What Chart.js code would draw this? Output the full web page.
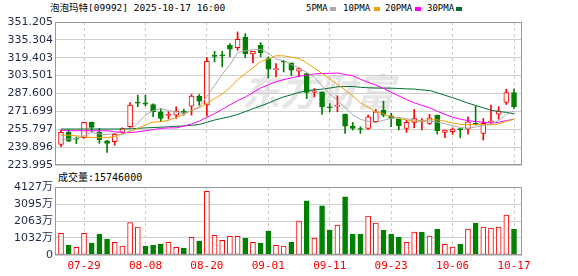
<!DOCTYPE html>
<html>
<head>
<meta charset="utf-8">
<script src="https://cdn.jsdelivr.net/npm/chart.js@4.4.1/dist/chart.umd.min.js"></script>
<style>
  body { margin: 0; width: 578px; height: 276px; background: #fff; position: relative; overflow: hidden; }
  .t { position: absolute; white-space: nowrap; font-family: 'DejaVu Sans Mono', 'Noto Sans CJK SC', monospace; color: #000; line-height: 12px; }
  .sq { position: absolute; width: 6px; height: 4px; }
  canvas { position: absolute; left: 0; }
</style>
</head>
<body>
<div class="t" id="title" style="left:50px;top:2px;font-size:9.5px;">泡泡玛特[09992] 2025-10-17 16:00</div>
<div class="t" style="left:306px;top:2px;font-size:9px;">5PMA</div><div class="sq" style="left:330px;top:7px;background:#aaaaaa"></div>
<div class="t" style="left:343px;top:2px;font-size:9px;">10PMA</div><div class="sq" style="left:374px;top:7px;background:#f0a000"></div>
<div class="t" style="left:385px;top:2px;font-size:9px;">20PMA</div><div class="sq" style="left:415px;top:7px;background:#ff00ff"></div>
<div class="t" style="left:427px;top:2px;font-size:9px;">30PMA</div><div class="sq" style="left:456px;top:7px;background:#007030"></div>
<div class="t" style="left:58px;top:172px;font-size:10px;">成交量:15746000</div>

<canvas id="price" width="578" height="176" style="top:0"></canvas>
<canvas id="vol" width="578" height="106" style="top:170px"></canvas>

<script>
// daily candles, 泡泡玛特 09992
const dates = ["07-24","07-25","07-28","07-29","07-30","07-31","08-01","08-04","08-05","08-06",
  "08-07","08-08","08-11","08-12","08-13","08-14","08-15","08-18","08-19","08-20",
  "08-21","08-22","08-25","08-26","08-27","08-28","08-29","09-01","09-02","09-03",
  "09-04","09-05","09-08","09-09","09-10","09-11","09-12","09-15","09-16","09-17",
  "09-18","09-19","09-22","09-23","09-24","09-25","09-26","09-29","09-30","10-02",
  "10-03","10-06","10-08","10-09","10-10","10-13","10-14","10-15","10-16","10-17"];
const opens = [242.3,253.0,248.0,248.2,261.9,253.0,245.6,244.7,253.0,258.0,
  280.0,279.3,277.8,271.3,268.0,268.4,271.5,276.3,285.2,277.5,
  321.5,321.3,330.5,328.4,337.9,322.8,330.5,318.7,308.9,316.3,
  314.8,307.4,305.4,288.7,289.1,275.5,276.0,269.3,258.6,255.9,
  256.5,262.5,272.8,267.8,264.8,256.5,261.9,262.9,261.0,268.4,
  253.0,253.6,255.9,255.9,260.8,252.1,261.9,269.3,279.6,288.5];
const highs = [255.1,255.6,249.0,262.0,262.2,256.5,246.0,252.1,257.1,279.6,
  286.1,286.1,278.5,274.3,271.3,275.8,273.7,286.7,286.7,319.5,
  325.2,325.2,332.0,342.4,340.9,325.2,332.9,320.2,314.2,317.2,
  314.8,310.4,305.4,292.0,289.1,278.7,285.5,269.3,261.9,258.0,
  268.4,273.4,280.8,269.9,264.8,263.9,273.4,265.4,269.0,268.4,
  255.1,257.1,256.5,266.9,276.6,265.4,277.2,275.8,291.5,291.5];
const lows = [240.3,244.7,243.0,247.6,253.6,243.2,235.2,241.7,252.1,257.4,
  275.8,276.6,266.9,262.5,264.8,265.4,268.4,268.4,277.2,267.5,
  315.7,311.3,320.2,326.1,319.6,315.1,320.2,301.5,302.4,306.8,
  303.3,302.4,283.1,284.6,269.0,271.3,271.3,252.1,255.1,252.1,
  255.6,261.9,266.9,258.0,255.1,253.0,257.1,255.1,260.0,251.5,
  248.2,251.2,248.2,251.5,259.5,246.2,261.0,264.8,277.8,274.3];
const closes = [253.0,245.3,247.0,261.9,257.4,246.2,243.2,251.2,256.5,277.3,
  279.0,278.0,271.3,265.4,269.0,271.9,270.8,285.2,280.8,316.3,
  320.5,321.0,327.0,335.8,323.1,325.2,324.0,309.2,309.8,315.4,
  308.3,309.8,288.5,289.1,275.8,274.9,277.2,258.6,256.5,255.6,
  266.9,271.3,268.4,265.4,258.9,261.9,265.4,263.1,266.0,254.5,
  255.1,255.9,255.5,262.5,260.2,261.0,262.5,272.2,288.5,275.8];
// volume in 万
const volumes = [1308,604,463,1308,725,1268,966,765,544,1973,
  1691,544,604,664,765,463,423,1067,845,3865,
  1188,886,1127,1127,1007,765,725,1449,584,544,
  785,2053,3281,1027,2979,1510,1812,3523,1268,1268,
  2355,1932,1510,1268,1087,765,1389,1389,1147,1570,
  644,483,664,1570,1932,1691,1631,1691,2416,1575];

// MA values before a full window exists
const ma5Lead = [247, 247, 247.5, 250];
const ma10Lead = [250.5, 250.5, 250, 249, 248.5, 248.3, 248.3, 249.5, 251.5];
const ma20Lead = [255, 254.5, 254.5, 254.5, 254.5, 254.5, 254.5, 253.5, 253, 252.8,
  253.5, 254.5, 255.5, 256.5, 257, 257, 258.5, 260.5, 263];
const ma30Lead = [256, 256, 256, 256, 256, 256, 256, 256, 256, 256.3,
  256.6, 257, 257.3, 257.6, 258, 258.4, 258.8, 259.3, 260, 262,
  264, 265.5, 267, 269, 271.5, 274, 276.5, 279, 282];

const priceTicks = [223.995, 239.896, 255.797, 271.699, 287.600, 303.501, 319.403, 335.304, 351.205];
const volTicks = [0, 1032, 2063, 3095, 4127];
const dateTickIdx = [3, 11, 19, 27, 35, 43, 51, 59];

const RED = "#ff0000";
const GREEN = "#008000";
const AXIS_TEXT = "#1e2a44";

function movingAvg(n, lead) {
  return closes.map((c, i) => {
    if (i < n - 1) return lead[i];
    let s = 0;
    for (let k = i - n + 1; k <= i; k++) s += closes[k];
    return s / n;
  });
}

const up = closes.map((c, i) => c >= opens[i]);
const volUp = closes.map((c, i) => (i === 0 ? c >= opens[i] : c >= closes[i - 1]));

// draw the grey box round the plot
const framePlugin = {
  id: "frame",
  afterDatasetsDraw(chart) {
    const { ctx, chartArea: a } = chart;
    ctx.save();
    ctx.strokeStyle = "#999";
    ctx.lineWidth = 1;
    ctx.strokeRect(Math.round(a.left) + 0.5, Math.round(a.top) + 0.5,
      Math.round(a.width) - 1, Math.round(a.height) - 1);
    ctx.restore();
  },
};

const watermark = {
  id: "watermark",
  beforeDatasetsDraw(chart) {
    const { ctx } = chart;
    ctx.save();
    ctx.font = "italic bold 38px 'Noto Sans CJK SC'";
    ctx.fillStyle = "rgba(205,205,205,0.5)";
    ctx.textBaseline = "middle";
    ctx.fillText("东方财富", 242, 92);
    ctx.restore();
  },
};

const xAxis = (showLabels) => ({
  type: "linear",
  min: -0.78,
  max: 60.04,
  offset: false,
  afterBuildTicks: (s) => { s.ticks = dateTickIdx.map((v) => ({ value: v })); },
  afterFit: (s) => { s.height = showLabels ? 21 : 0; },
  grid: { color: "#cccccc", drawTicks: false, offset: false },
  border: { display: false, dash: [3, 3] },
  ticks: {
    display: showLabels,
    autoSkip: false,
    maxRotation: 0,
    padding: 5,
    color: RED,
    font: { family: "'DejaVu Sans Mono'", size: 11 },
    callback: (v) => dates[v],
  },
});

const maLine = (label, n, lead, color) => ({
  type: "line",
  label,
  order: 0,
  data: movingAvg(n, lead).map((v, i) => ({ x: i, y: v })),
  borderColor: color,
  borderWidth: 1,
  pointRadius: 0,
  tension: 0,
});

new Chart(document.getElementById("price"), {
  type: "bar",
  data: {
    datasets: [
      maLine("5PMA", 5, ma5Lead, "#aaaaaa"),
      maLine("10PMA", 10, ma10Lead, "#f0a000"),
      maLine("20PMA", 20, ma20Lead, "#ff00ff"),
      maLine("30PMA", 30, ma30Lead, "#007030"),
      {
        label: "body",
        order: 1,
        data: opens.map((o, i) => ({ x: i, y: [o, closes[i]] })),
        backgroundColor: up.map((u) => (u ? "#ffffff" : GREEN)),
        borderColor: up.map((u) => (u ? RED : GREEN)),
        borderWidth: 1,
        borderSkipped: false,
        barThickness: 5,
        minBarLength: 1,
        grouped: false,
      },
      {
        label: "wick",
        order: 2,
        data: lows.map((l, i) => ({ x: i, y: [l, highs[i]] })),
        backgroundColor: up.map((u) => (u ? RED : GREEN)),
        borderWidth: 0,
        barThickness: 1,
        grouped: false,
      },
    ],
  },
  options: {
    responsive: false,
    animation: false,
    devicePixelRatio: 1,
    layout: { padding: { top: 22, right: 56, bottom: 11, left: 0 } },
    plugins: { legend: { display: false }, tooltip: { enabled: false } },
    scales: {
      x: xAxis(false),
      y: {
        min: priceTicks[0],
        max: priceTicks[priceTicks.length - 1],
        afterBuildTicks: (s) => { s.ticks = priceTicks.map((v) => ({ value: v })); },
        afterFit: (s) => { s.width = 55; },
        grid: { color: "#d0d0d0", drawTicks: false },
        border: { display: false },
        ticks: {
          padding: 2,
          color: AXIS_TEXT,
          font: { family: "'DejaVu Sans'", size: 11 },
          callback: (v) => v.toFixed(3),
        },
      },
    },
  },
  plugins: [watermark, framePlugin],
});

new Chart(document.getElementById("vol"), {
  type: "bar",
  data: {
    datasets: [
      {
        label: "成交量",
        data: volumes.map((v, i) => ({ x: i, y: v })),
        backgroundColor: volUp.map((u) => (u ? "#ffffff" : GREEN)),
        borderColor: volUp.map((u) => (u ? RED : GREEN)),
        borderWidth: 1,
        borderSkipped: false,
        barThickness: 5,
      },
    ],
  },
  options: {
    responsive: false,
    animation: false,
    devicePixelRatio: 1,
    layout: { padding: { top: 17, right: 56, bottom: 0, left: 0 } },
    plugins: { legend: { display: false }, tooltip: { enabled: false } },
    scales: {
      x: xAxis(true),
      y: {
        min: 0,
        max: volTicks[volTicks.length - 1],
        afterBuildTicks: (s) => { s.ticks = volTicks.map((v) => ({ value: v })); },
        afterFit: (s) => { s.width = 55; },
        grid: { color: "#d0d0d0", drawTicks: false },
        border: { display: false },
        ticks: {
          padding: 2,
          color: AXIS_TEXT,
          font: { family: "'DejaVu Sans', 'Noto Sans CJK SC'", size: 11 },
          callback: (v) => (v === 0 ? "0" : v + "万"),
        },
      },
    },
  },
  plugins: [framePlugin],
});
</script>
</body>
</html>
